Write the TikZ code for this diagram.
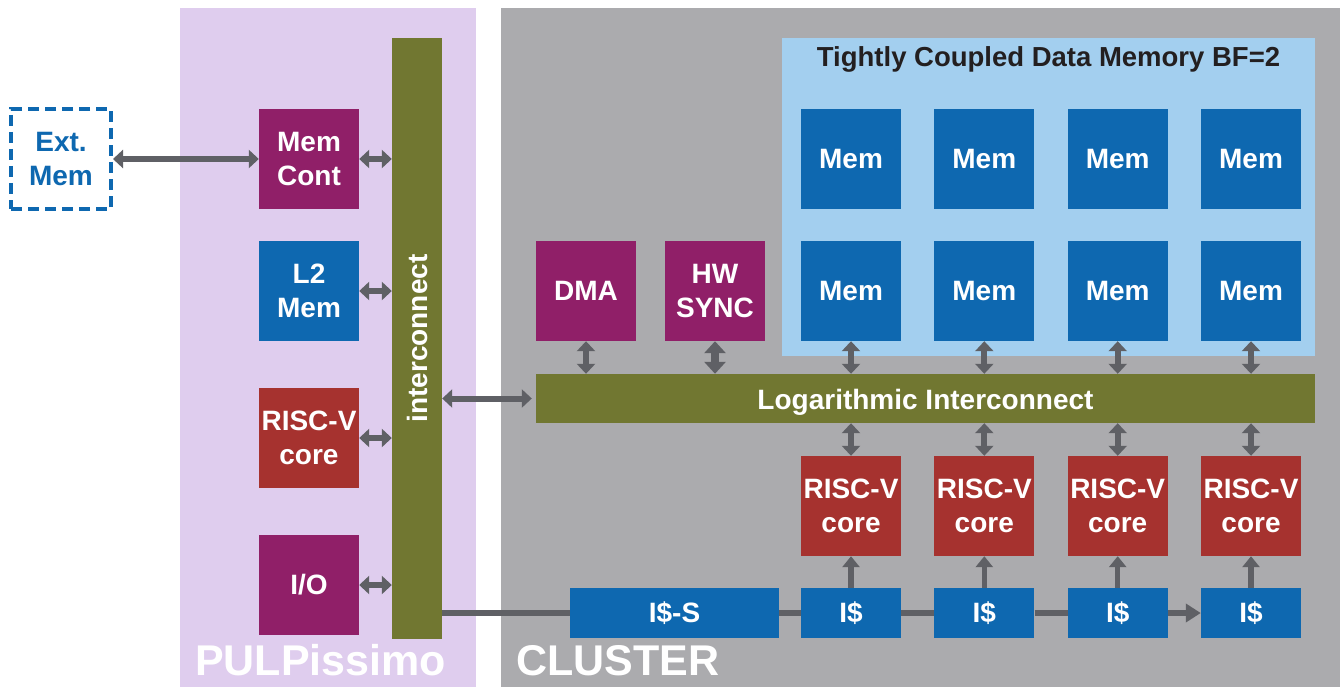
\documentclass[tikz,border=0pt]{standalone}
\usepackage{fontspec}
\setmainfont{Liberation Sans}
\usetikzlibrary{arrows.meta}
\definecolor{pulpbg}{HTML}{DFCDEE}
\definecolor{clbg}{HTML}{ABABAE}
\definecolor{olivec}{HTML}{717731}
\definecolor{magc}{HTML}{901F68}
\definecolor{bluec}{HTML}{0E68B0}
\definecolor{redc}{HTML}{A6322F}
\definecolor{lbluec}{HTML}{A3CFEF}
\definecolor{arrc}{HTML}{5F6065}
\definecolor{titlec}{HTML}{231F20}
\tikzset{
  blk/.style={rectangle, inner sep=0pt, text=white, font=\bfseries\fontsize{28}{34}\selectfont, align=center, minimum width=100pt, minimum height=100pt},
  icblk/.style={blk, fill=bluec, minimum height=50pt},
  biarrow/.style={draw=arrc, line width=6pt, {Triangle[length=10pt,width=18pt]}-{Triangle[length=10pt,width=18pt]}},
  bigbiarrow/.style={draw=arrc, line width=8pt, {Triangle[length=12pt,width=21pt]}-{Triangle[length=12pt,width=21pt]}},
  uparrow/.style={draw=arrc, line width=5.5pt, -{Triangle[length=11pt,width=17pt]}},
  plainline/.style={draw=arrc, line width=6pt},
  biglabel/.style={text=white, font=\bfseries\fontsize{43}{50}\selectfont, inner sep=0pt, anchor=base west}
}
\begin{document}
\begin{tikzpicture}[x=1pt,y=-1pt]
\useasboundingbox (0,0) rectangle (1340,687);
\fill[white] (0,0) rectangle (1340,687);
% backgrounds
\fill[pulpbg] (180,8) rectangle (476,687);
\fill[clbg] (501,8) rectangle (1340,687);
\fill[lbluec] (782,38) rectangle (1315,356);
\node[font=\bfseries\fontsize{27.5}{32}\selectfont, text=titlec, inner sep=0pt, anchor=base] (title) at (1048.5,67) {Tightly Coupled Data Memory BF=2};

% PULPissimo side
\node[blk, draw=bluec, line width=4pt, dash pattern=on 11pt off 6pt, text=bluec] (ext) at (61,159) {Ext.\\Mem};
\node[blk, fill=magc] (memcont) at (309,159) {Mem\\Cont};
\node[blk, fill=bluec] (l2) at (309,291) {L2\\Mem};
\node[blk, fill=redc] (riscl) at (309,438) {RISC-V\\core};
\node[blk, fill=magc] (io) at (309,585) {I/O};
\node[rectangle, fill=olivec, inner sep=0pt, minimum width=50pt, minimum height=601pt] (ic) at (417,338.5) {};
\node[rotate=90, text=white, font=\bfseries\fontsize{28}{34}\selectfont, inner sep=0pt] (iclabel) at (ic.center) {interconnect};

% Cluster
\node[blk, fill=magc] (dma) at (586,291) {DMA};
\node[blk, fill=magc] (hws) at (715,291) {HW\\SYNC};
\node[rectangle, inner sep=0pt, fill=olivec, minimum width=779pt, minimum height=49pt] (log) at (925.5,398.5) {};
\node[font=\bfseries\fontsize{28}{34}\selectfont, text=white, inner sep=0pt, anchor=base] (loglabel) at (925.5,409) {Logarithmic Interconnect};

\foreach \i/\x in {1/851,2/984.3,3/1117.7,4/1251} {
  \node[blk, fill=bluec] (ma\i) at (\x,159) {Mem};
  \node[blk, fill=bluec] (mb\i) at (\x,291) {Mem};
  \node[blk, fill=redc] (core\i) at (\x,506) {RISC-V\\core};
  \node[icblk] (ic\i) at (\x,613) {I\$};
}
\node[icblk, minimum width=209pt] (iss) at (674.5,613) {I\$-S};

% connectors
\draw[biarrow] (ext.east) -- (memcont.west);
\draw[biarrow] (memcont.east) -- (memcont.east -| ic.west);
\draw[biarrow] (l2.east) -- (l2.east -| ic.west);
\draw[biarrow] (riscl.east) -- (riscl.east -| ic.west);
\draw[biarrow] (io.east) -- (io.east -| ic.west);
\draw[biarrow, shorten >=4pt] (log.west -| ic.east) -- (log.west);
\draw[biarrow] (dma.south) -- (dma.south |- log.north);
\draw[bigbiarrow] (hws.south) -- (hws.south |- log.north);
\foreach \i in {1,2,3,4} {
  \draw[biarrow] (mb\i.south) -- (mb\i.south |- log.north);
  \draw[biarrow] (core\i.north |- log.south) -- (core\i.north);
  \draw[uparrow] (ic\i.north) -- (core\i.south);
}
\draw[plainline] (iss.west -| ic.east) -- (iss.west);
\draw[plainline] (iss.east) -- (ic1.west);
\draw[plainline] (ic1.east) -- (ic2.west);
\draw[plainline] (ic2.east) -- (ic3.west);
\draw[plainline, -{Triangle[length=15pt,width=18pt]}] (ic3.east) -- (ic4.west);

% region labels
\node[biglabel] (pulplabel) at (195,675) {PULPissimo};
\node[biglabel] (cllabel) at (516,675) {CLUSTER};
\end{tikzpicture}
\end{document}
